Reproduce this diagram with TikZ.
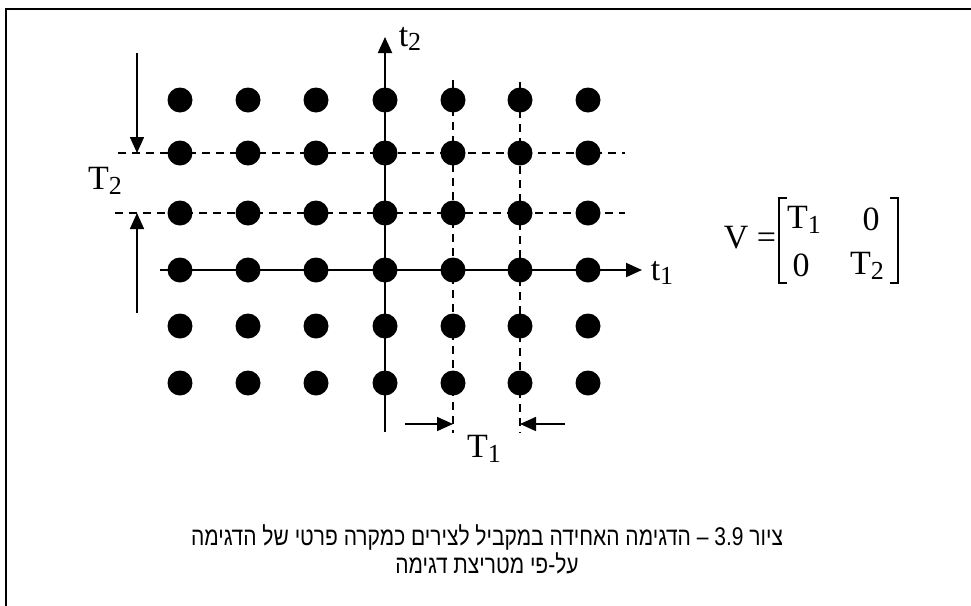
\documentclass[tikz,border=0pt]{standalone}
\usepackage{fontspec}
\setmainfont{Liberation Serif}
\newfontfamily\hebfont[Script=Hebrew, FakeStretch=0.82]{Liberation Sans}
\TeXXeTstate=1
\usetikzlibrary{arrows.meta}
\newcommand{\lsub}[1]{\raisebox{-0.3ex}{\fontsize{13}{13}\selectfont #1}}

\begin{document}
\begin{tikzpicture}[x=0.5pt, y=-0.5pt,
        dot/.style={circle, fill=black, inner sep=0pt, minimum size=12.5pt},
        axis/.style={-{Triangle[length=8pt,width=7pt]}, line width=1pt},
        period/.style={-{Triangle[length=8pt,width=7pt]}, line width=0.8pt},
        lattice/.style={line width=0.85pt, dash pattern=on 4pt off 3pt},
        lbl/.style={inner sep=0pt, font=\fontsize{17}{20}\selectfont}
      ]
      \useasboundingbox (0,0) rectangle (971,606);
      \draw[line width=1.3pt] (6,612) -- (6,9) -- (977,9);

      % lattice lines
      \coordinate (h1w) at (118,153); \coordinate (h1e) at (625,153);
      \coordinate (h2w) at (115,213); \coordinate (h2e) at (625,213);
      \coordinate (v1n) at (453,80);  \coordinate (v1s) at (453,433);
      \coordinate (v2n) at (520,82);  \coordinate (v2s) at (520,433);
      \draw[lattice] (h1w) -- (h1e);
      \draw[lattice] (h2w) -- (h2e);
      \draw[lattice] (v1n) -- (v1s);
      \draw[lattice] (v2n) -- (v2s);

      % axes
      \coordinate (o1) at (160,270); \coordinate (o2) at (385,432);
      \coordinate (e1) at (642,270); \coordinate (e2) at (385,37);
      \draw[axis] (o1) -- (e1);
      \draw[axis] (o2) -- (e2);
      \node[lbl] (t1) at (662,273) {t\lsub{1}};
      \node[lbl] (t2) at (410,39) {t\lsub{2}};

      % samples
      \foreach \i/\x in {1/180,2/248,3/316,4/385,5/453,6/520,7/588}
        \foreach \j/\y in {1/100,2/153,3/213,4/270,5/326,6/383}
          \node[dot] (d\i\j) at (\x,\y) {};

      % periods
      \coordinate (p1a) at (137,53);  \coordinate (p1b) at (137,153);
      \coordinate (p2a) at (137,313); \coordinate (p2b) at (137,213);
      \draw[period] (p1a) -- (p1b);
      \draw[period] (p2a) -- (p2b);
      \node[lbl] (T2) at (105,181) {T\lsub{2}};
      \coordinate (q1a) at (405,424); \coordinate (q1b) at (453,424);
      \coordinate (q2a) at (565,424); \coordinate (q2b) at (520,424);
      \draw[period] (q1a) -- (q1b);
      \draw[period] (q2a) -- (q2b);
      \node[lbl] (T1) at (484,449) {T\lsub{1}};

      % sampling matrix
      \node[lbl] (V) at (750,238) {V =};
      \node[lbl] (m11) at (804,220) {T\lsub{1}};
      \node[lbl] (m12) at (871,219) {0};
      \node[lbl] (m21) at (801,265) {0};
      \node[lbl] (m22) at (867,266) {T\lsub{2}};
      \draw[line width=0.8pt] (787,198) -- (779,198) -- (779,283) -- (787,283);
      \draw[line width=0.8pt] (890,198) -- (898,198) -- (898,283) -- (890,283);

      % caption
      \node[align=center, font=\hebfont\fontsize{12.8}{14}\selectfont] (cap) at (487,549)
        {\beginR ציור \beginL 3.9\endL{} – הדגימה האחידה במקביל לצירים כמקרה פרטי של הדגימה\endR\\
         \beginR על-פי מטריצת דגימה\endR};
\end{tikzpicture}
\end{document}
